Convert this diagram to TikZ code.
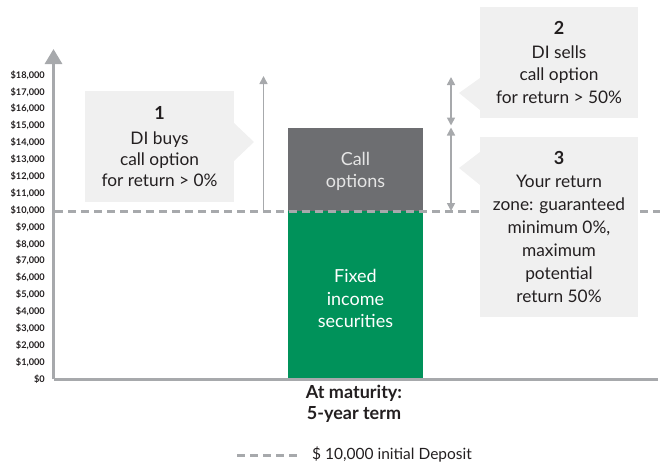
\documentclass[tikz,border=0pt]{standalone}
\usepackage{fontspec}
\setmainfont{Lato}
\usetikzlibrary{arrows.meta}
\definecolor{axisgray}{HTML}{A7A9AC}
\definecolor{bargray}{HTML}{6D6E71}
\definecolor{bargreen}{HTML}{00925A}
\definecolor{boxfill}{HTML}{F0F0F0}
\definecolor{inktext}{HTML}{231F20}
\tikzset{
  axisline/.style={draw=axisgray, line width=3pt},
  baseline dash/.style={draw=axisgray, line width=3pt, dash pattern=on 8pt off 5pt},
  rangearrow/.style={draw=axisgray, line width=1.6pt, -{Triangle[length=8pt,width=8pt]}},
  rangearrows/.style={draw=axisgray, line width=1.6pt, {Triangle[length=8pt,width=8pt]}-{Triangle[length=8pt,width=8pt]}},
  callout/.style={fill=boxfill, inner sep=0pt, align=center, text=inktext,
    font=\fontsize{17.3}{21}\selectfont},
  pointer/.style={fill=boxfill, draw=none},
  ticklabel/.style={anchor=east, inner sep=0pt, text=inktext, font=\bfseries\fontsize{9.2}{10}\selectfont},
  bartext/.style={align=center, font=\fontsize{18}{22.5}\selectfont, inner sep=0pt}
}
\begin{document}
\begin{tikzpicture}[x=1pt,y=-1pt]
\useasboundingbox (0,0) rectangle (668,463);

% tick labels
\node[ticklabel] (t0) at (45,379) {\$0};
\foreach \i in {1,...,18} {
  \node[ticklabel] (t\i) at (45,{379-\i*16.89}) {\$\i,000};
}

% bars
\path[fill=bargreen] (288,211) rectangle (423,379);
\path[fill=bargray] (288,128) rectangle (423,211);
\node[bartext, text=white] (fixed) at (355.5,298.5) {Fixed\\income\\securities};
\node[bartext, text=white!90!black] (call) at (355.5,171.5) {Call\\options};

% baseline dashed line
\coordinate (d0) at (55,211);
\coordinate (d1) at (660,211);
\draw[baseline dash] (d0) -- (d1);

% axes
\coordinate (origin) at (53.5,379);
\coordinate (ytop) at (53.5,49);
\coordinate (xend) at (658,379);
\draw[axisline] (xend) -- (origin);
\draw[axisline, -{Triangle[length=15pt,width=17pt]}] (origin) -- (ytop);

% range arrows
\coordinate (a1s) at (263.5,211);
\coordinate (a1e) at (263.5,76);
\draw[rangearrow] (a1s) -- (a1e);
\coordinate (a2s) at (451,77);
\coordinate (a2e) at (451,125.5);
\draw[rangearrows] (a2s) -- (a2e);
\coordinate (a3s) at (451,127.5);
\coordinate (a3e) at (451,211);
\draw[rangearrows] (a3s) -- (a3e);

% callout 1
\path[pointer] (234,123) -- (254,142) -- (234,161) -- cycle;
\node[callout, minimum width=149pt, minimum height=111pt] (c1) at (159.5,146.5)
  {{\bfseries\fontsize{18}{21}\selectfont 1}\\[4pt]DI buys\\call option\\for return > 0\%};

% callout 2
\path[pointer] (480,78) -- (459,93) -- (480,110) -- cycle;
\node[callout, minimum width=158pt, minimum height=111pt, font=\fontsize{17.3}{22.5}\selectfont] (c2) at (559,62.5)
  {{\bfseries\fontsize{18}{22}\selectfont 2}\\[1pt]DI sells\\call option\\for return > 50\%};

% callout 3
\path[pointer] (480,152) -- (459,168) -- (480,185) -- cycle;
\node[callout, minimum width=158pt, minimum height=180pt, font=\fontsize{17.3}{23}\selectfont] (c3) at (559,227)
  {{\bfseries\fontsize{18}{23}\selectfont 3}\\Your return\\zone: guaranteed\\minimum 0\%,\\maximum\\potential\\return 50\%};

% x label
\node[align=center, text=inktext, font=\bfseries\fontsize{18}{20.5}\selectfont] (xlab) at (354,404) {At maturity:\\5-year term};

% legend
\coordinate (l0) at (237,455);
\coordinate (l1) at (301,455);
\draw[baseline dash] (l0) -- (l1);
\node[anchor=west, inner sep=0pt, text=inktext, font=\fontsize{15.5}{18}\selectfont] (leg) at (312,454) {\$ 10,000 initial Deposit};
\end{tikzpicture}
\end{document}
